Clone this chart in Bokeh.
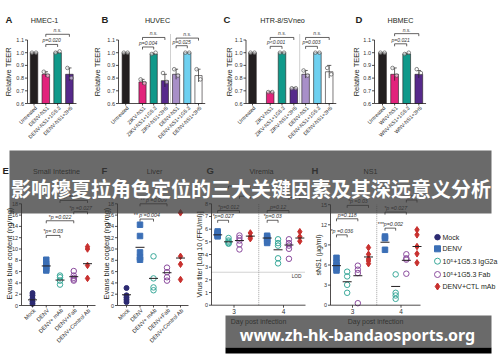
import math
from bokeh.plotting import figure
from bokeh.models import Range1d
from bokeh.core.properties import value
from bokeh.embed import file_html
from bokeh.resources import INLINE

# ======================= DATA =======================
TEER_TICKS = [0.6, 0.7, 0.8, 0.9, 1.0, 1.1]
TEER_TICK_LABELS = ["0.6", "0.7", "0.8", "0.9", "1.0", "1.1"]

A_TITLE = "HMEC-1"
A_CATS = ["Untreated", "DENV-NS1", "DENV-NS1+1G5.3", "DENV-NS1+3H5"]
A_MEAN = [1.0, 0.83, 1.0, 0.83]
A_PTS = [[1.0, 1.0], [0.85, 0.82], [1.0, 1.01], [0.88, 0.80]]
A_ERR = [0.0, 0.02, 0.006, 0.05]
A_SIG = [(1, 3, 1.145, "n.s."), (1, 2, 1.065, "p=0.020")]

B_TITLE = "HUVEC"
B_CATS = ["Untreated", "ZIKV-NS1", "ZIKV-NS1+1G5.3", "ZIKV-NS1+3H5",
          "DENV-NS1", "DENV-NS1+1G5.3", "DENV-NS1+3H5"]
B_MEAN = [1.0, 0.77, 0.99, 0.78, 0.83, 1.0, 0.82]
B_PTS = [[1.0, 1.0], [0.79, 0.76], [0.99, 1.0], [0.84, 0.77],
         [0.87, 0.82], [1.0, 1.0], [0.87, 0.79]]
B_ERR = [0.0, 0.02, 0.005, 0.05, 0.04, 0.0, 0.05]
B_SIG = [(1, 3, 1.12, "n.s."), (1, 2, 1.045, "p=0.004"),
         (4, 6, 1.115, "n.s."), (4, 5, 1.055, "p=0.025")]

C_TITLE = "HTR-8/SVneo"
C_CATS = ["Untreated", "ZIKV-NS1", "ZIKV-NS1+1G5.3", "ZIKV-NS1+3H5",
          "DENV-NS1", "DENV-NS1+1G5.3", "DENV-NS1+3H5"]
C_MEAN = [1.0, 0.69, 1.0, 0.72, 0.83, 1.0, 0.85]
C_PTS = [[1.0, 1.0], [0.69, 0.69], [1.0, 1.0], [0.72, 0.72],
         [0.86, 0.82], [1.0, 1.0], [0.88, 0.83]]
C_ERR = [0.0, 0.005, 0.0, 0.005, 0.03, 0.0, 0.05]
C_SIG = [(1, 3, 1.12, "n.s."), (1, 2, 1.05, "p<0.001"),
         (4, 6, 1.12, "n.s."), (4, 5, 1.05, "p=0.003")]

D_TITLE = "HBMEC"
D_CATS = ["Untreated", "WNV-NS1", "WNV-NS1+1G5.3", "WNV-NS1+3H5"]
D_MEAN = [1.0, 0.83, 0.99, 0.83]
D_PTS = [[1.0, 1.0], [0.88, 0.82], [0.99, 1.0], [0.87, 0.84]]
D_ERR = [0.0, 0.05, 0.006, 0.03]
D_SIG = [(1, 3, 1.15, "n.s."), (1, 2, 1.07, "p=0.021")]

EVANS_TICKS = [0, 2, 4, 6, 8, 10, 12, 14, 16, 18]
EF_CATS = ["Mock", "DENV", "DENV+ mAb", "DENV+Fab", "DENV+Control Ab"]

E_TITLE = "Small Intestine"
E_PTS = [[0.3, 0.7, 1.2, 1.8, 2.2], [6.2, 6.5, 7.0, 7.3, 8.1], [3.7, 4.4, 5.0, 5.3],
         [4.4, 4.6, 4.9, 5.3, 6.1], [4.8, 7.1, 10.0, 10.4]]
E_MEAN = [1.0, 7.0, 4.5, 5.1, 7.4]
E_SIG = [(1, 2, 12.4, "*p= 0.03"), (1, 3, 15.0, "*p =0.022"),
         (3, 4, 16.6, "*p =0.027"), (2, 4, 18.6, "*p =0.007")]

F_TITLE = "Liver"
F_PTS = [[0.6, 1.0, 1.4, 1.8, 3.1], [8.1, 8.5, 9.4, 12.3, 14.3], [2.7, 3.2, 4.8, 8.7],
         [4.4, 5.0, 5.9, 6.7], [4.6, 7.3, 8.7, 16.4]]
F_MEAN = [1.9, 10.3, 4.8, 5.8, 8.4]
F_SIG = [(1, 2, 15.3, "** p =0.004"), (1, 3, 18.0, "** p =0.009")]

DAYS = [3, 4]
DAY_LABELS = ["3", "4"]
GROUPS = ["Mock", "DENV", "10\u2075+1G5.3 IgG2a", "10\u2075+1G5.3 Fab", "DENV+CTL mAb"]

G_TITLE = "Viremia"
TITER_TICKS = [0, 1, 2, 3, 4, 5, 6, 7, 8]
G_LOD = 2.6
# per group (DENV, IgG2a, Fab, CTL) -> per day (3, 4)
G_PTS = [[[5.82, 5.7, 5.6, 5.5, 5.43], [5.48, 5.35, 5.2, 5.05, 4.91]],
         [[5.3, 5.1, 5.0, 4.9, 4.85], [5.2, 4.9, 4.7, 3.7, 3.3]],
         [[5.5, 5.3, 5.1, 4.8, 4.4], [5.2, 4.9, 4.7, 4.45, 3.66]],
         [[5.7, 5.4, 5.25], [5.8, 5.4, 5.05]]]
G_MEAN = [[5.55, 5.3], [5.0, 4.37], [5.1, 4.75], [5.45, 5.3]]
G_SIG = [(0, 1, 3, 6.7, "*p=0.027"), (0, 2, 3, 7.47, "*p=0.012"),
         (2, 3, 3, 8.6, ""), (1, 3, 3, 9.4, ""),
         (0, 1, 4, 6.7, "*p=0.03"), (0, 2, 4, 7.47, "p=0.12"), (2, 3, 4, 8.5, "")]

H_TITLE = "NS1"
NS1_TICKS = [0, 3, 6, 9, 12, 15]
H_PTS = [[[7.07, 6.33, 5.93, 5.5, 5.18], [10.25, 10.0, 8.27]],
         [[5.0, 4.3, 3.04, 1.85], [4.6, 1.85, 1.45, 0.95]],
         [[5.9, 5.3, 4.8, 0.3], [7.6, 7.0, 6.8, 4.7]],
         [[8.6, 7.6, 6.9, 6.6, 6.2], [11.25, 10.5, 8.76, 7.67, 6.33]]]
H_MEAN = [[5.9, 9.4], [3.5, 2.8], [4.4, 6.7], [7.2, 8.76]]
H_SIG = [(0, 1, 3, 10.5, "*p =0.036"), (0, 2, 3, 12.9, "p=0.118"), (1, 3, 3, 14.9, "*p =0.03"),
         (0, 1, 4, 11.5, "***p=0.002"), (0, 2, 4, 13.9, "*p =0.027"), (2, 3, 4, 15.7, "ns")]

BANNER = "影响穆夏拉角色定位的三大关键因素及其深远意义分析"
WATERMARK = "www.zh-hk-bandaosports.org"

# ======================= STYLE =======================
INK = "#231f20"
GREY = "#333333"
BAR_COLORS = ["#231f20", "#e2237c", "#10998a", "#56298b", "#a88fc8", "#6ed0f0", "#ffffff"]
NAVY, BLUE, TEAL, PURPLE, RED = "#2c2a72", "#3b6fb6", "#3aa99a", "#8b4c9e", "#c8302e"
# (marker, fill, line, size)
GROUP_STYLE = [("circle", NAVY, NAVY, 5), ("square", BLUE, BLUE, 5.5),
               ("circle", None, TEAL, 5.5), ("circle", None, PURPLE, 5.5),
               ("diamond", RED, RED, 6.5)]
FONT = value("Liberation Sans")

WIN_W, WIN_H = 500, 362
p = figure(width=WIN_W, height=WIN_H, x_range=Range1d(0, WIN_W), y_range=Range1d(WIN_H, 0),
           x_axis_type=None, y_axis_type=None, output_backend="svg",
           toolbar_location=None, min_border=0, outline_line_color=None,
           background_fill_color="white", border_fill_color="white")


class Panel:
    def __init__(self, name, xa, pxa, xb, pxb, ya, pya, yb, pyb):
        self.kx = (pxb - pxa) / (xb - xa)
        self.ky = (pyb - pya) / (yb - ya)
        if name:
            p.extra_x_ranges[name] = Range1d(start=xa + (0 - pxa) / self.kx,
                                             end=xa + (WIN_W - pxa) / self.kx)
            p.extra_y_ranges[name] = Range1d(start=ya + (WIN_H - pya) / self.ky,
                                             end=ya + (0 - pya) / self.ky)
            self.kw = dict(x_range_name=name, y_range_name=name)
        else:
            self.kw = {}

    def dx(self, px):
        return px / self.kx

    def dy(self, px):  # px upwards, in data units
        return -px / self.ky


M = Panel(None, 0, 0, 1, 1, 0, 0, 1, 1)


def T(P, xs, ys, texts, size, color=GREY, align="center", base="middle", angle=0.0,
      xo=0, yo=0, style="normal", font=FONT):
    p.text(x=list(xs), y=list(ys), text=list(texts), text_font=font,
           text_font_size=f"{size}px", text_color=color, text_align=align,
           text_baseline=base, angle=angle, x_offset=xo, y_offset=yo,
           text_font_style=style, **P.kw)


def seg(P, x0, y0, x1, y1, color=INK, width=0.8, dash="solid"):
    p.segment(x0=list(x0), y0=list(y0), x1=list(x1), y1=list(y1), line_color=color,
              line_width=width, line_dash=dash, **P.kw)


def yaxis(P, xa, ticks, labels, fs=5.5):
    n = len(ticks)
    seg(P, [xa], [ticks[0]], [xa], [ticks[-1]])
    seg(P, [xa - P.dx(2.5)] * n, ticks, [xa] * n, ticks)
    T(P, [xa] * n, ticks, labels, fs, align="right", xo=-3.5)


def bracket(P, x0, x1, lvl, label, fs=5):
    d = P.dy(2.5)
    p.multi_line(xs=[[x0, x0, x1, x1]], ys=[[lvl - d, lvl, lvl, lvl - d]],
                 line_color=INK, line_width=0.7, **P.kw)
    if label:
        T(P, [(x0 + x1) / 2], [lvl], [label], fs, base="bottom", yo=-1, style="italic")


def top_panel(name, letter, lx, title, tx, cats, means, pts, err, sig, slots,
              px0, pps, axis_px, ylab_px, sep=None):
    P = Panel(name, 0, px0, 1, px0 + pps, 0.6, 103, 1.1, 39.5)
    n = len(cats)
    xa = (axis_px - px0) / pps
    xend = slots[-1] + 0.6
    cols = BAR_COLORS[:n] if n == 7 else [BAR_COLORS[i] for i in (0, 1, 2, 3)]
    p.vbar(x=slots, top=means, bottom=0.6, width=0.64, fill_color=cols,
           line_color=INK, line_width=0.6, **P.kw)
    lo = [m - e for m, e in zip(means, err)]
    hi = [m + e for m, e in zip(means, err)]
    seg(P, slots, lo, slots, hi, width=0.7)
    cw = 0.18
    seg(P, [s - cw for s in slots], hi, [s + cw for s in slots], hi, width=0.7)
    for s, pp in zip(slots, pts):
        p.scatter(x=[s - 0.17, s + 0.17], y=pp, marker="circle", size=3.6,
                  fill_color="white", fill_alpha=0.55, line_color="#555555",
                  line_width=0.7, **P.kw)
    seg(P, [xa], [0.6], [xend], [0.6])
    yaxis(P, xa, TEER_TICKS, TEER_TICK_LABELS)
    seg(P, slots, [0.6] * n, slots, [0.6 - P.dy(2)] * n)
    T(P, slots, [0.6] * n, cats, 5.2, color="#2a2a2a", align="right", base="middle",
      angle=math.pi / 4, xo=2, yo=3.5)
    T(P, [(ylab_px - px0) / pps], [0.85], ["Relative TEER"], 7.5, INK, angle=math.pi / 2)
    if sep is not None:
        seg(P, [sep], [0.6], [sep], [1.15], color="#888888", width=0.8, dash="1 1")
    for i, j, lvl, lab in sig:
        bracket(P, slots[i], slots[j], lvl, lab)
    T(M, [lx], [19], [letter], 9.5, INK, align="left", style="bold")
    T(M, [tx], [20], [title], 7.2, INK)


top_panel("A", "A", 5, A_TITLE, 44, A_CATS, A_MEAN, A_PTS, A_ERR, A_SIG,
          [0, 1, 2, 3], 33.5, 11.8, 27, 7.5)
top_panel("B", "B", 101, B_TITLE, 157, B_CATS, B_MEAN, B_PTS, B_ERR, B_SIG,
          [0, 1.5, 2.5, 3.5, 4.5, 5.5, 6.5], 125.2, 11.2, 118, 97, sep=4.0)
top_panel("C", "C", 223, C_TITLE, 282, C_CATS, C_MEAN, C_PTS, C_ERR, C_SIG,
          [0, 1.5, 2.5, 3.5, 4.5, 5.5, 6.5], 252, 11.8, 245.5, 228.5, sep=4.0)
top_panel("D", "D", 355, D_TITLE, 400, D_CATS, D_MEAN, D_PTS, D_ERR, D_SIG,
          [0, 1, 2, 3], 382, 12.1, 374, 355.5)


def draw_group(P, x, ys, g):
    mk, fill, line, size = GROUP_STYLE[g]
    p.scatter(x=[x] * len(ys), y=ys, marker=mk, size=size,
              fill_color=fill if fill else "white", fill_alpha=1.0 if fill else 0.0,
              line_color=line, line_width=1.0, **P.kw)


def mean_line(P, x, m):
    hw = P.dx(4.5)
    seg(P, [x - hw], [m], [x + hw], [m], color=INK, width=1.0)


def ef_panel(name, letter, lx, title, tx, pts, means, sig, px0, pps, axis_px, ylab_px, end_px):
    P = Panel(name, 0, px0, 1, px0 + pps, 0, 305, 18, 203.3)
    n = len(EF_CATS)
    slots = list(range(n))
    xa = (axis_px - px0) / pps
    xend = (end_px - px0) / pps
    for g in range(n):
        draw_group(P, slots[g], pts[g], g)
        mean_line(P, slots[g], means[g])
    seg(P, [xa], [0], [xend], [0])
    yaxis(P, xa, EVANS_TICKS, [str(t) for t in EVANS_TICKS])
    seg(P, slots, [0] * n, slots, [-P.dy(2)] * n)
    T(P, slots, [0] * n, EF_CATS, 5.6, color="#2a2a2a", align="right",
      angle=math.pi / 4, xo=2, yo=4)
    T(P, [(ylab_px - px0) / pps], [9.2], ["Evans blue content (ng/mg)"], 7.5, INK,
      angle=math.pi / 2)
    for i, j, lvl, lab in sig:
        bracket(P, slots[i], slots[j], lvl, lab, fs=5.3)
    T(M, [lx], [170], [letter], 9.5, INK, align="left", style="bold")
    T(M, [tx], [171], [title], 7.2, INK)


ef_panel("E", "E", 2, E_TITLE, 56, E_PTS, E_MEAN, E_SIG, 32, 13.75, 21, 9, 95)
ef_panel("F", "F", 101, F_TITLE, 154, F_PTS, F_MEAN, F_SIG, 126, 13.5, 117, 105.5, 188)

OFFS = [-0.33, -0.11, 0.11, 0.33]


def day_panel(name, letter, lx, title, tx, pts, means, sig, ticks, ylabel, ymax,
              py_top, px3, px4, axis_px, end_px, ylab_px, lod=None):
    P = Panel(name, 3, px3, 4, px4, 0, 304.7, ymax, py_top)
    xa = 3 + (axis_px - px3) / (px4 - px3)
    xend = 3 + (end_px - px3) / (px4 - px3)
    if lod is not None:
        seg(P, [xa], [lod], [xend], [lod], color="#9a9a9a", width=0.9, dash="1 1")
        T(P, [xend], [lod], ["LOD"], 4.8, align="right", base="top", yo=2, xo=-4)
    seg(P, [3.5], [0], [3.5], [ymax], color="#9a9a9a", width=0.9, dash="1 1")
    for g in range(4):
        for di, d in enumerate(DAYS):
            x = d + OFFS[g]
            draw_group(P, x, pts[g][di], g + 1)
            mean_line(P, x, means[g][di])
    seg(P, [xa], [0], [xend], [0])
    yaxis(P, xa, ticks, [str(t) for t in ticks])
    seg(P, DAYS, [0, 0], DAYS, [-P.dy(2.5)] * 2)
    T(P, DAYS, [0, 0], DAY_LABELS, 6.5, base="top", yo=4)
    T(P, [(xa + xend) / 2], [0], ["Day post infection"], 7, INK, base="top", yo=13)
    T(P, [3 + (ylab_px - px3) / (px4 - px3)], [ymax / 2], [ylabel], 7, INK,
      angle=math.pi / 2)
    for gi, gj, d, lvl, lab in sig:
        bracket(P, d + OFFS[gi], d + OFFS[gj], lvl, lab, fs=5.3)
    T(M, [lx], [170], [letter], 9.5, INK, align="left", style="bold")
    T(M, [tx], [171], [title], 7.2, INK)


day_panel("G", "G", 206, G_TITLE, 261, G_PTS, G_MEAN, G_SIG, TITER_TICKS,
          "Virus titer [Log 10 (FFU/ml)]", 8, 203.3, 233.5, 283, 211, 305, 199, lod=G_LOD)
day_panel("H", "H", 311, H_TITLE, 370, H_PTS, H_MEAN, H_SIG, NS1_TICKS,
          "sNS1 (\u00b5g/ml)", 15, 204.2, 352, 400.5, 330, 420, 318)

# legend (panel H)
LEG_Y = [236.7, 248.3, 260.7, 274, 286]
for g in range(5):
    mk, fill, line, size = GROUP_STYLE[g]
    p.scatter(x=[437], y=[LEG_Y[g]], marker=mk, size=size + 0.5,
              fill_color=fill if fill else "white", fill_alpha=1.0 if fill else 0.0,
              line_color=line, line_width=1.0)
T(M, [442] * 5, LEG_Y, GROUPS, 7, INK, align="left")

# ---------------- overlays ----------------
p.quad(left=[9], right=[491], top=[150], bottom=[213], fill_color="#383838",
       fill_alpha=0.75, line_color=None)
T(M, [250.5], [187.5], [BANNER], 20, "white", style="bold",
  font=value("Noto Sans CJK SC"))
p.quad(left=[225], right=[491], top=[315], bottom=[347], fill_color="#383838",
       fill_alpha=0.75, line_color=None)
p.quad(left=[225], right=[491], top=[347], bottom=[353], fill_color="black",
       line_color=None)
T(M, [357], [334], [WATERMARK], 16, "white", style="bold", font=value("Noto Sans"))

open("out.html", "w").write(file_html(p, INLINE))
